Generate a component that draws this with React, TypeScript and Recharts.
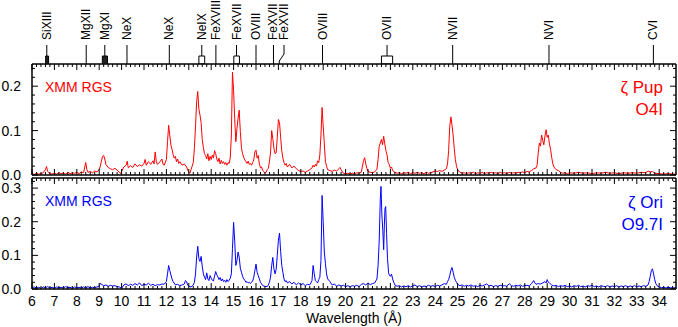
import React from 'react';
import { LineChart, Line, XAxis, YAxis, ComposedChart, Scatter, ReferenceLine, ReferenceArea } from 'recharts';

const X_MIN = 6;
const X_MAX = 34.75;
const FONT = '"Liberation Sans", Arial, Helvetica, sans-serif';

// zeta Pup (XMM RGS) flux vs wavelength
const pupSpectrum: [number, number][] = [
  [6.0, 0.003], [6.1, 0.001], [6.2, 0.004], [6.3, 0.002], [6.4, 0.003], [6.5, 0.005], [6.6, 0.012], [6.65, 0.019], [6.7, 0.008], [6.8, 0.003],
  [6.9, 0.002], [7.0, 0.004], [7.1, 0.002], [7.2, 0.005], [7.3, 0.003], [7.4, 0.004], [7.5, 0.002], [7.6, 0.006], [7.7, 0.003], [7.8, 0.005],
  [7.9, 0.004], [8.0, 0.006], [8.1, 0.003], [8.2, 0.007], [8.3, 0.005], [8.4, 0.028], [8.45, 0.012], [8.5, 0.006], [8.6, 0.008], [8.7, 0.005],
  [8.8, 0.009], [8.9, 0.007], [9.0, 0.012], [9.05, 0.02], [9.1, 0.032], [9.15, 0.042], [9.2, 0.044], [9.25, 0.036], [9.3, 0.024], [9.4, 0.017],
  [9.5, 0.014], [9.6, 0.012], [9.7, 0.015], [9.8, 0.011], [9.9, 0.006], [9.95, 0.003], [10.0, 0.008], [10.1, 0.018], [10.2, 0.022], [10.25, 0.031],
  [10.3, 0.016], [10.4, 0.021], [10.5, 0.017], [10.6, 0.025], [10.7, 0.019], [10.8, 0.023], [10.9, 0.02], [11.0, 0.026], [11.05, 0.035], [11.1, 0.022],
  [11.2, 0.03], [11.3, 0.024], [11.4, 0.032], [11.45, 0.025], [11.5, 0.052], [11.55, 0.03], [11.6, 0.024], [11.7, 0.029], [11.8, 0.036], [11.85, 0.024],
  [11.9, 0.022], [12.0, 0.035], [12.05, 0.075], [12.1, 0.112], [12.15, 0.09], [12.2, 0.068], [12.25, 0.058], [12.3, 0.046], [12.35, 0.038], [12.4, 0.042],
  [12.45, 0.03], [12.5, 0.036], [12.55, 0.026], [12.6, 0.03], [12.7, 0.022], [12.8, 0.025], [12.9, 0.018], [13.0, 0.006], [13.05, 0.004], [13.1, 0.012],
  [13.15, 0.02], [13.2, 0.028], [13.25, 0.06], [13.3, 0.11], [13.35, 0.165], [13.4, 0.188], [13.45, 0.148], [13.5, 0.135], [13.55, 0.118], [13.6, 0.08],
  [13.65, 0.062], [13.7, 0.048], [13.75, 0.044], [13.8, 0.036], [13.85, 0.048], [13.9, 0.032], [13.95, 0.042], [14.0, 0.035], [14.05, 0.045], [14.1, 0.038],
  [14.15, 0.055], [14.2, 0.048], [14.25, 0.036], [14.3, 0.03], [14.35, 0.038], [14.4, 0.025], [14.45, 0.033], [14.5, 0.026], [14.55, 0.03], [14.6, 0.024],
  [14.65, 0.028], [14.7, 0.022], [14.75, 0.028], [14.8, 0.026], [14.85, 0.038], [14.9, 0.09], [14.95, 0.232], [15.0, 0.19], [15.05, 0.125], [15.1, 0.075],
  [15.15, 0.105], [15.2, 0.128], [15.25, 0.146], [15.3, 0.098], [15.35, 0.062], [15.4, 0.048], [15.45, 0.04], [15.5, 0.034], [15.55, 0.03], [15.6, 0.026],
  [15.65, 0.031], [15.7, 0.024], [15.75, 0.026], [15.8, 0.022], [15.85, 0.028], [15.9, 0.034], [15.95, 0.052], [16.0, 0.056], [16.05, 0.038], [16.1, 0.044],
  [16.15, 0.025], [16.2, 0.016], [16.25, 0.018], [16.3, 0.01], [16.35, 0.008], [16.4, 0.005], [16.45, 0.006], [16.5, 0.012], [16.55, 0.015], [16.6, 0.03],
  [16.65, 0.052], [16.7, 0.1], [16.75, 0.082], [16.8, 0.06], [16.85, 0.048], [16.9, 0.05], [16.95, 0.085], [17.0, 0.125], [17.05, 0.118], [17.1, 0.085],
  [17.15, 0.055], [17.2, 0.038], [17.25, 0.028], [17.3, 0.022], [17.35, 0.026], [17.4, 0.018], [17.5, 0.024], [17.6, 0.016], [17.7, 0.02], [17.8, 0.014],
  [17.9, 0.01], [18.0, 0.008], [18.1, 0.009], [18.2, 0.006], [18.3, 0.009], [18.4, 0.012], [18.5, 0.016], [18.55, 0.022], [18.6, 0.018], [18.65, 0.024],
  [18.7, 0.02], [18.75, 0.032], [18.8, 0.028], [18.85, 0.045], [18.9, 0.09], [18.95, 0.152], [19.0, 0.11], [19.05, 0.07], [19.1, 0.03], [19.15, 0.02],
  [19.2, 0.012], [19.3, 0.01], [19.4, 0.008], [19.5, 0.011], [19.6, 0.009], [19.7, 0.014], [19.75, 0.017], [19.8, 0.012], [19.9, 0.004], [20.0, 0.003],
  [20.1, 0.004], [20.2, 0.002], [20.3, 0.004], [20.4, 0.003], [20.5, 0.005], [20.6, 0.004], [20.7, 0.006], [20.8, 0.032], [20.85, 0.039], [20.9, 0.025],
  [20.95, 0.015], [21.0, 0.008], [21.1, 0.006], [21.2, 0.005], [21.3, 0.007], [21.4, 0.013], [21.45, 0.035], [21.5, 0.065], [21.55, 0.072], [21.6, 0.08],
  [21.65, 0.068], [21.7, 0.087], [21.75, 0.07], [21.8, 0.055], [21.85, 0.045], [21.9, 0.028], [21.95, 0.024], [22.0, 0.015], [22.05, 0.018], [22.1, 0.01],
  [22.2, 0.006], [22.3, 0.004], [22.4, 0.005], [22.5, 0.003], [22.6, 0.005], [22.7, 0.004], [22.8, 0.006], [22.9, 0.003], [23.0, 0.005], [23.1, 0.004],
  [23.2, 0.006], [23.3, 0.004], [23.4, 0.005], [23.5, 0.003], [23.6, 0.006], [23.7, 0.004], [23.8, 0.005], [23.9, 0.007], [24.0, 0.009], [24.1, 0.008],
  [24.2, 0.01], [24.3, 0.008], [24.4, 0.011], [24.5, 0.014], [24.55, 0.025], [24.6, 0.055], [24.65, 0.11], [24.7, 0.131], [24.75, 0.112], [24.8, 0.09],
  [24.85, 0.06], [24.9, 0.035], [24.95, 0.02], [25.0, 0.012], [25.1, 0.006], [25.2, 0.004], [25.3, 0.005], [25.4, 0.003], [25.5, 0.005], [25.6, 0.004],
  [25.7, 0.006], [25.8, 0.003], [25.9, 0.005], [26.0, 0.004], [26.1, 0.006], [26.2, 0.003], [26.3, 0.005], [26.4, 0.004], [26.5, 0.006], [26.6, 0.004],
  [26.7, 0.005], [26.8, 0.003], [26.9, 0.006], [27.0, 0.004], [27.1, 0.005], [27.2, 0.003], [27.3, 0.006], [27.4, 0.004], [27.5, 0.005], [27.6, 0.004],
  [27.7, 0.006], [27.8, 0.005], [27.9, 0.007], [28.0, 0.005], [28.1, 0.008], [28.2, 0.007], [28.3, 0.01], [28.4, 0.014], [28.5, 0.016], [28.55, 0.022],
  [28.6, 0.05], [28.65, 0.072], [28.7, 0.065], [28.75, 0.09], [28.8, 0.078], [28.85, 0.068], [28.9, 0.088], [28.95, 0.102], [29.0, 0.085], [29.05, 0.09],
  [29.1, 0.07], [29.15, 0.058], [29.2, 0.04], [29.25, 0.025], [29.3, 0.018], [29.4, 0.012], [29.5, 0.01], [29.6, 0.006], [29.7, 0.004], [29.8, 0.005],
  [29.9, 0.003], [30.0, 0.005], [30.2, 0.004], [30.4, 0.006], [30.6, 0.004], [30.8, 0.005], [31.0, 0.003], [31.2, 0.005], [31.4, 0.004], [31.6, 0.006],
  [31.8, 0.004], [32.0, 0.005], [32.2, 0.003], [32.4, 0.005], [32.6, 0.004], [32.8, 0.005], [33.0, 0.004], [33.2, 0.006], [33.4, 0.005], [33.5, 0.009],
  [33.6, 0.007], [33.7, 0.008], [33.8, 0.004], [34.0, 0.003], [34.2, 0.002], [34.4, 0.003], [34.6, 0.002], [34.75, 0.002],
];

// zeta Ori (XMM RGS) flux vs wavelength
const oriSpectrum: [number, number][] = [
  [6.0, 0.004], [6.1, 0.006], [6.2, 0.003], [6.3, 0.005], [6.4, 0.002], [6.5, 0.006], [6.6, 0.004], [6.7, 0.007], [6.8, 0.003], [6.9, 0.005],
  [7.0, 0.002], [7.1, 0.006], [7.2, 0.004], [7.3, 0.005], [7.4, 0.003], [7.5, 0.007], [7.6, 0.004], [7.7, 0.005], [7.8, 0.002], [7.9, 0.006],
  [8.0, 0.004], [8.1, 0.005], [8.2, 0.003], [8.3, 0.006], [8.4, 0.004], [8.5, 0.007], [8.6, 0.003], [8.7, 0.005], [8.8, 0.004], [8.9, 0.006],
  [9.0, 0.008], [9.05, 0.017], [9.1, 0.014], [9.2, 0.01], [9.3, 0.012], [9.4, 0.008], [9.5, 0.011], [9.6, 0.009], [9.7, 0.01], [9.8, 0.007],
  [9.9, 0.006], [10.0, 0.002], [10.1, 0.012], [10.2, 0.015], [10.3, 0.01], [10.4, 0.014], [10.5, 0.011], [10.6, 0.016], [10.7, 0.012], [10.8, 0.018],
  [10.9, 0.01], [11.0, 0.014], [11.1, 0.012], [11.2, 0.017], [11.3, 0.011], [11.4, 0.014], [11.5, 0.01], [11.6, 0.013], [11.7, 0.012], [11.8, 0.015],
  [11.9, 0.014], [12.0, 0.022], [12.05, 0.045], [12.1, 0.07], [12.15, 0.055], [12.2, 0.042], [12.25, 0.03], [12.3, 0.022], [12.4, 0.012], [12.5, 0.014],
  [12.6, 0.01], [12.7, 0.012], [12.8, 0.015], [12.85, 0.025], [12.9, 0.022], [12.95, 0.012], [13.0, 0.008], [13.1, 0.006], [13.2, 0.012], [13.25, 0.02],
  [13.3, 0.045], [13.35, 0.095], [13.4, 0.127], [13.45, 0.09], [13.5, 0.082], [13.55, 0.097], [13.6, 0.068], [13.65, 0.045], [13.7, 0.035], [13.75, 0.028],
  [13.8, 0.048], [13.85, 0.03], [13.9, 0.025], [13.95, 0.04], [14.0, 0.032], [14.05, 0.026], [14.1, 0.024], [14.15, 0.038], [14.2, 0.052], [14.25, 0.042],
  [14.3, 0.036], [14.35, 0.028], [14.4, 0.034], [14.45, 0.024], [14.5, 0.03], [14.55, 0.022], [14.6, 0.026], [14.65, 0.02], [14.7, 0.028], [14.75, 0.022],
  [14.8, 0.026], [14.85, 0.032], [14.9, 0.045], [14.95, 0.12], [15.0, 0.198], [15.05, 0.142], [15.1, 0.07], [15.15, 0.085], [15.2, 0.11], [15.25, 0.095],
  [15.3, 0.062], [15.35, 0.05], [15.4, 0.038], [15.45, 0.03], [15.5, 0.026], [15.55, 0.02], [15.6, 0.022], [15.65, 0.018], [15.7, 0.02], [15.75, 0.016],
  [15.8, 0.02], [15.85, 0.024], [15.9, 0.035], [15.95, 0.055], [16.0, 0.074], [16.05, 0.05], [16.1, 0.04], [16.15, 0.03], [16.2, 0.02], [16.25, 0.015],
  [16.3, 0.01], [16.4, 0.008], [16.5, 0.007], [16.55, 0.012], [16.6, 0.02], [16.65, 0.035], [16.7, 0.07], [16.75, 0.094], [16.8, 0.06], [16.85, 0.045],
  [16.9, 0.058], [16.95, 0.1], [17.0, 0.145], [17.05, 0.166], [17.1, 0.112], [17.15, 0.07], [17.2, 0.05], [17.25, 0.03], [17.3, 0.022], [17.35, 0.025],
  [17.4, 0.018], [17.5, 0.022], [17.6, 0.015], [17.7, 0.02], [17.8, 0.012], [17.9, 0.018], [18.0, 0.012], [18.1, 0.016], [18.2, 0.01], [18.3, 0.014],
  [18.4, 0.012], [18.45, 0.018], [18.5, 0.025], [18.55, 0.07], [18.6, 0.045], [18.65, 0.025], [18.7, 0.022], [18.75, 0.018], [18.8, 0.028], [18.85, 0.035],
  [18.9, 0.085], [18.95, 0.278], [19.0, 0.2], [19.05, 0.11], [19.1, 0.075], [19.15, 0.045], [19.2, 0.03], [19.3, 0.022], [19.4, 0.012], [19.5, 0.015],
  [19.6, 0.008], [19.7, 0.012], [19.8, 0.009], [19.9, 0.011], [20.0, 0.007], [20.1, 0.01], [20.2, 0.006], [20.3, 0.01], [20.4, 0.008], [20.5, 0.011],
  [20.6, 0.007], [20.7, 0.014], [20.8, 0.016], [20.9, 0.012], [21.0, 0.018], [21.1, 0.013], [21.2, 0.016], [21.3, 0.018], [21.4, 0.03], [21.45, 0.07],
  [21.5, 0.142], [21.55, 0.27], [21.58, 0.305], [21.62, 0.22], [21.66, 0.175], [21.7, 0.117], [21.73, 0.19], [21.76, 0.24], [21.79, 0.245], [21.83, 0.165],
  [21.87, 0.09], [21.92, 0.048], [21.96, 0.04], [22.0, 0.038], [22.05, 0.044], [22.1, 0.03], [22.15, 0.02], [22.2, 0.012], [22.3, 0.008], [22.4, 0.01],
  [22.5, 0.006], [22.6, 0.009], [22.7, 0.007], [22.8, 0.01], [22.9, 0.006], [23.0, 0.009], [23.1, 0.012], [23.2, 0.007], [23.3, 0.01], [23.4, 0.006],
  [23.5, 0.009], [23.6, 0.007], [23.7, 0.011], [23.8, 0.008], [23.9, 0.01], [24.0, 0.007], [24.1, 0.011], [24.2, 0.009], [24.3, 0.012], [24.4, 0.016],
  [24.5, 0.014], [24.55, 0.022], [24.6, 0.028], [24.65, 0.04], [24.7, 0.055], [24.75, 0.064], [24.8, 0.05], [24.85, 0.035], [24.9, 0.026], [24.95, 0.02],
  [25.0, 0.014], [25.1, 0.01], [25.2, 0.012], [25.3, 0.008], [25.4, 0.011], [25.5, 0.009], [25.6, 0.012], [25.7, 0.008], [25.8, 0.01], [25.9, 0.007],
  [26.0, 0.011], [26.1, 0.009], [26.2, 0.012], [26.3, 0.015], [26.4, 0.009], [26.5, 0.011], [26.6, 0.007], [26.7, 0.01], [26.8, 0.008], [26.9, 0.011],
  [27.0, 0.009], [27.1, 0.01], [27.2, 0.008], [27.3, 0.016], [27.4, 0.01], [27.5, 0.008], [27.6, 0.011], [27.7, 0.009], [27.8, 0.012], [27.9, 0.008],
  [28.0, 0.01], [28.1, 0.011], [28.2, 0.009], [28.3, 0.016], [28.4, 0.025], [28.45, 0.018], [28.5, 0.014], [28.6, 0.016], [28.7, 0.015], [28.8, 0.018],
  [28.9, 0.022], [28.95, 0.018], [29.0, 0.028], [29.05, 0.02], [29.1, 0.018], [29.2, 0.012], [29.3, 0.009], [29.4, 0.011], [29.5, 0.007], [29.6, 0.01],
  [29.7, 0.008], [29.8, 0.011], [29.9, 0.007], [30.0, 0.009], [30.1, 0.006], [30.2, 0.01], [30.3, 0.008], [30.4, 0.011], [30.5, 0.007], [30.6, 0.009],
  [30.7, 0.006], [30.8, 0.01], [30.9, 0.008], [31.0, 0.011], [31.1, 0.007], [31.2, 0.009], [31.3, 0.006], [31.4, 0.01], [31.5, 0.008], [31.6, 0.007],
  [31.7, 0.01], [31.8, 0.006], [31.9, 0.009], [32.0, 0.007], [32.1, 0.01], [32.2, 0.006], [32.3, 0.009], [32.4, 0.007], [32.5, 0.01], [32.6, 0.006],
  [32.7, 0.009], [32.8, 0.007], [32.9, 0.01], [33.0, 0.006], [33.1, 0.009], [33.2, 0.007], [33.3, 0.01], [33.4, 0.008], [33.5, 0.012], [33.55, 0.022],
  [33.6, 0.038], [33.65, 0.055], [33.7, 0.06], [33.75, 0.045], [33.8, 0.028], [33.85, 0.016], [33.9, 0.01], [34.0, 0.006], [34.1, 0.004], [34.2, 0.005],
  [34.3, 0.003], [34.4, 0.005], [34.5, 0.004], [34.6, 0.003], [34.75, 0.004],
];

// line identifications shown above the top panel
const ionNames = ['SiXIII', 'MgXII', 'MgXI', 'NeX', 'NeX', 'NeIX', 'FeXVIII', 'FeXVII', 'OVIII', 'FeXVII', 'FeXVII', 'OVIII', 'OVII', 'NVII', 'NVI', 'CVI'];
const ionLabelWave = [6.66, 8.42, 9.25, 10.24, 12.13, 13.58, 14.21, 15.13, 16.0, 16.78, 17.25, 18.97, 21.85, 24.78, 29.08, 33.74];
const ionHasBox = [true, false, true, false, false, true, false, true, false, false, false, false, true, false, false, false];
// blended multiplets drawn as boxes
const blendFrom = [6.61, 9.14, 13.45, 15.01, 21.6];
const blendTo = [6.74, 9.37, 13.71, 15.26, 22.1];
const blendFilled = [true, true, false, false, false];
// kinked marker for FeXVII 17.05
const kinkWave = [17.04, 17.25];

const xTicks: number[] = [];
for (let i = 0; i <= 143; i++) xTicks.push(Math.round((6 + i * 0.2) * 10) / 10);
const yTicksTop: number[] = [];
for (let i = 0; i <= 12; i++) yTicksTop.push(Math.round(i * 2) / 100);
const yTicksBottom: number[] = [];
for (let i = 0; i <= 16; i++) yTicksBottom.push(Math.round(i * 2) / 100);

const pupData = pupSpectrum.map(([w, f]) => ({ w, f }));
const oriData = oriSpectrum.map(([w, f]) => ({ w, f }));
const labelPoints = ionNames.map((n, i) => ({ x: ionLabelWave[i], y: 24, name: n }));

const isMajorX = (v: number) => Math.abs(v - Math.round(v)) < 1e-6;
const isMajorY = (v: number) => Math.abs(v * 10 - Math.round(v * 10)) < 1e-6;

const XTick = (props: any) => {
  const { x, y, payload, dir, showLabel } = props;
  const v = payload.value;
  const major = isMajorX(v);
  const len = major ? 6 : 3;
  return (
    <g>
      <line x1={x} x2={x} y1={y} y2={y + dir * len} stroke="#000" strokeWidth={1} />
      {showLabel && major ? (
        <text x={x} y={y + 17} textAnchor="middle" fontSize={14} fontFamily={FONT} fill="#000">
          {String(Math.round(v))}
        </text>
      ) : null}
    </g>
  );
};

const YTick = (props: any) => {
  const { x, y, payload, dir, showLabel } = props;
  const v = payload.value;
  const major = isMajorY(v);
  const len = major ? 6 : 3;
  return (
    <g>
      <line x1={x} x2={x + dir * len} y1={y} y2={y} stroke="#000" strokeWidth={1} />
      {showLabel && major ? (
        <text x={x - 11} y={y + 5} textAnchor="end" fontSize={14} fontFamily={FONT} fill="#000">
          {v.toFixed(1)}
        </text>
      ) : null}
    </g>
  );
};

const LabelShape = (props: any) => {
  const { cx, cy, payload } = props;
  return (
    <text
      x={cx}
      y={cy}
      transform={`rotate(-90, ${cx}, ${cy})`}
      textAnchor="start"
      dominantBaseline="central"
      fontSize={12}
      fontFamily={FONT}
      fill="#000"
    >
      {payload.name}
    </text>
  );
};

const axisLine = { stroke: '#000', strokeWidth: 1.5 };

function Panel({ data, color, yMax, yTicks, showXLabels, height, margin }: any) {
  return (
    <LineChart width={678} height={height} data={data} margin={margin}>
      <XAxis
        xAxisId="b"
        type="number"
        dataKey="w"
        domain={[X_MIN, X_MAX]}
        allowDataOverflow
        ticks={xTicks}
        interval={0}
        height={1}
        tickSize={0}
        tickMargin={0}
        axisLine={axisLine}
        tickLine={false}
        tick={<XTick dir={-1} showLabel={showXLabels} />}
      />
      <XAxis
        xAxisId="t"
        orientation="top"
        type="number"
        dataKey="w"
        domain={[X_MIN, X_MAX]}
        allowDataOverflow
        ticks={xTicks}
        interval={0}
        height={1}
        tickSize={0}
        tickMargin={0}
        axisLine={axisLine}
        tickLine={false}
        tick={<XTick dir={1} showLabel={false} />}
      />
      <YAxis
        yAxisId="l"
        type="number"
        domain={[0, yMax]}
        allowDataOverflow
        ticks={yTicks}
        interval={0}
        width={1}
        tickSize={0}
        tickMargin={0}
        axisLine={axisLine}
        tickLine={false}
        tick={<YTick dir={1} showLabel={true} />}
      />
      <YAxis
        yAxisId="r"
        orientation="right"
        type="number"
        domain={[0, yMax]}
        allowDataOverflow
        ticks={yTicks}
        interval={0}
        width={1}
        tickSize={0}
        tickMargin={0}
        axisLine={axisLine}
        tickLine={false}
        tick={<YTick dir={-1} showLabel={false} />}
      />
      <Line
        xAxisId="b"
        yAxisId="l"
        type="linear"
        dataKey="f"
        stroke={color}
        strokeWidth={1}
        dot={false}
        activeDot={false}
        isAnimationActive={false}
      />
    </LineChart>
  );
}

function IonStrip() {
  return (
    <ComposedChart width={678} height={64} margin={{ top: 0, right: 2, bottom: 0, left: 32 }} data={labelPoints}>
      <XAxis type="number" dataKey="x" domain={[X_MIN, X_MAX]} allowDataOverflow hide />
      <YAxis type="number" dataKey="y" domain={[0, 64]} allowDataOverflow hide />
      {blendFrom.map((b, i) => (
        <ReferenceArea
          key={'box' + i}
          x1={b}
          x2={blendTo[i]}
          y1={0}
          y2={8}
          fill={blendFilled[i] ? '#222' : 'none'}
          fillOpacity={1}
          stroke="#000"
          strokeWidth={1}
          ifOverflow="visible"
        />
      ))}
      {ionLabelWave.map((w, i) =>
        ionNames[i] === 'FeXVII' && w === kinkWave[1] ? null : (
          <ReferenceLine
            key={'stick' + i}
            segment={[{ x: w, y: ionHasBox[i] ? 8 : 0 }, { x: w, y: 19 }]}
            stroke="#000"
            strokeWidth={1}
            ifOverflow="visible"
          />
        )
      )}
      <ReferenceLine segment={[{ x: kinkWave[0], y: 0 }, { x: kinkWave[0], y: 3 }]} stroke="#000" ifOverflow="visible" />
      <ReferenceLine segment={[{ x: kinkWave[0], y: 3 }, { x: kinkWave[1], y: 10 }]} stroke="#000" ifOverflow="visible" />
      <ReferenceLine segment={[{ x: kinkWave[1], y: 10 }, { x: kinkWave[1], y: 19 }]} stroke="#000" ifOverflow="visible" />
      <Scatter data={labelPoints} dataKey="y" shape={<LabelShape />} isAnimationActive={false} />
    </ComposedChart>
  );
}

export default function App() {
  const abs: React.CSSProperties = { position: 'absolute' };
  return (
    <div style={{ position: 'relative', width: 678, height: 327, fontFamily: FONT, background: '#fff', overflow: 'hidden' }}>
      <style>{'body{margin:0;}'}</style>
      <div style={{ ...abs, left: 0, top: 170 }}>
        <Panel
          data={oriData}
          color="#0000ff"
          yMax={0.33}
          yTicks={yTicksBottom}
          showXLabels={true}
          height={157}
          margin={{ top: 7, right: 1, bottom: 37, left: 31 }}
        />
      </div>
      <div style={{ ...abs, left: 0, top: 0 }}>
        <Panel
          data={pupData}
          color="#ff0000"
          yMax={0.25}
          yTicks={yTicksTop}
          showXLabels={false}
          height={186}
          margin={{ top: 63, right: 1, bottom: 10, left: 31 }}
        />
      </div>
      <div style={{ ...abs, left: 0, top: 0 }}>
        <IonStrip />
      </div>
      <div style={{ ...abs, left: 45, top: 79, color: '#ff0000', fontSize: 14, lineHeight: '16px' }}>XMM RGS</div>
      <div style={{ ...abs, right: 15, top: 77, color: '#ff0000', fontSize: 17, lineHeight: '22px', textAlign: 'right' }}>
        ζ Pup<br />O4I
      </div>
      <div style={{ ...abs, left: 45, top: 193, color: '#0000ff', fontSize: 14, lineHeight: '16px' }}>XMM RGS</div>
      <div style={{ ...abs, right: 15, top: 192, color: '#0000ff', fontSize: 17, lineHeight: '22px', textAlign: 'right' }}>
        ζ Ori<br />O9.7I
      </div>
      <div style={{ ...abs, left: 32, width: 644, top: 310, textAlign: 'center', fontSize: 14, lineHeight: '16px', color: '#000' }}>
        Wavelength (Å)
      </div>
    </div>
  );
}
